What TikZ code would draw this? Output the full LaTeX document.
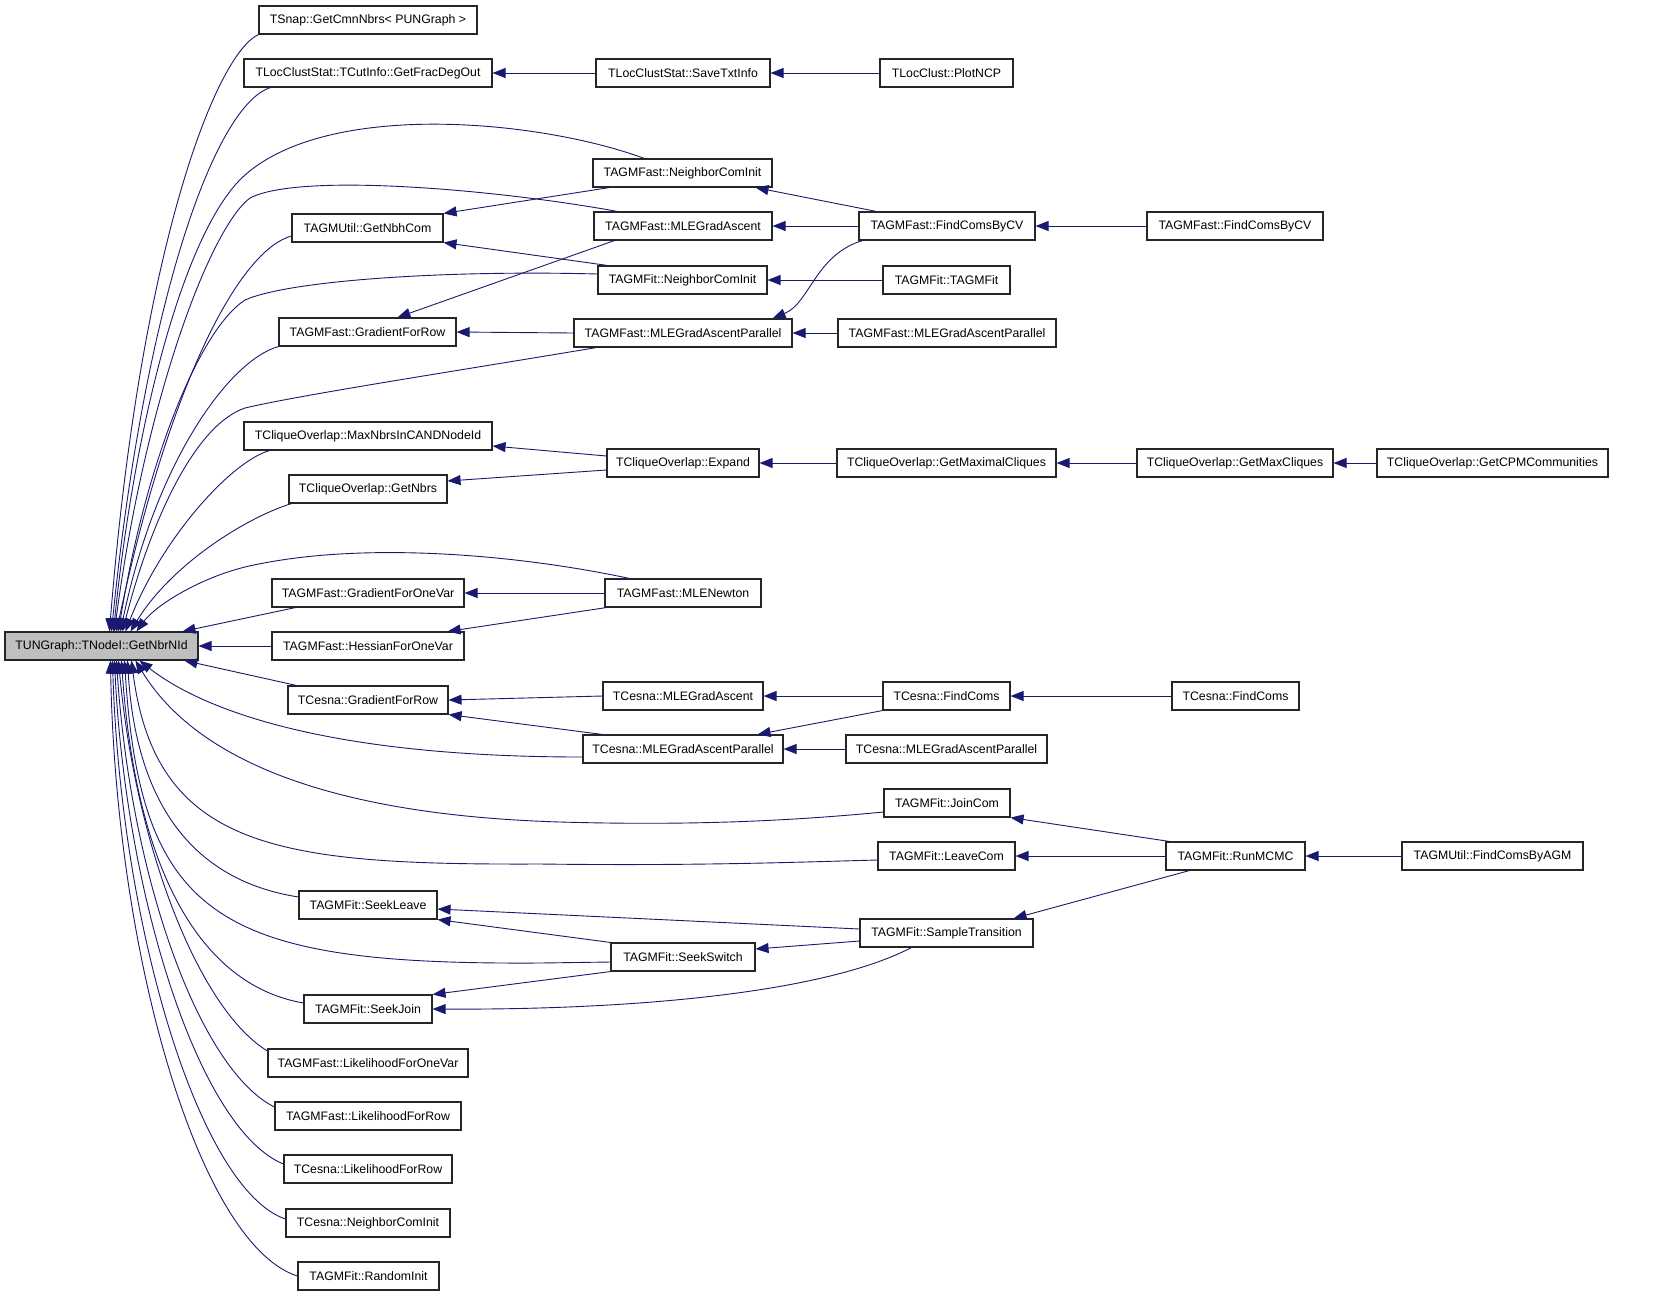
\documentclass[tikz,border=0pt]{standalone}
\usepackage{fontspec}
\setmainfont{Liberation Sans}
\usetikzlibrary{arrows.meta}
\definecolor{edgec}{HTML}{191970}
\definecolor{mainfill}{HTML}{BFBFBF}
\begin{document}
\begin{tikzpicture}[x=1pt,y=-1pt,
  box/.style={draw=black!85, line width=1.1pt, fill=white, rectangle, minimum height=28pt, inner sep=0pt, font=\fontsize{12.3}{14}\selectfont},
  e/.style={draw=edgec, line width=0.9pt, {Triangle[length=13pt,width=10pt]}-}]
\fill[white] (0,0) rectangle (1653,1296);
\useasboundingbox (0,0) rectangle (1653,1296);
% nodes
\node[box, fill=mainfill, minimum width=193] (main) at (101.5,646) {TUNGraph::TNodeI::GetNbrNId};
\node[box, minimum width=218] (snap) at (368,20) {TSnap::GetCmnNbrs< PUNGraph >};
\node[box, minimum width=248] (frac) at (368,73) {TLocClustStat::TCutInfo::GetFracDegOut};
\node[box, minimum width=174] (save) at (683,73) {TLocClustStat::SaveTxtInfo};
\node[box, minimum width=133] (plot) at (946.5,73) {TLocClust::PlotNCP};
\node[box, minimum width=179] (fnci) at (682.5,173) {TAGMFast::NeighborComInit};
\node[box, minimum width=151] (nbh) at (367.5,228) {TAGMUtil::GetNbhCom};
\node[box, minimum width=178] (fmle) at (683,226) {TAGMFast::MLEGradAscent};
\node[box, minimum width=176] (fcv) at (947,226) {TAGMFast::FindComsByCV};
\node[box, minimum width=176] (fcv2) at (1235,226) {TAGMFast::FindComsByCV};
\node[box, minimum width=169] (anci) at (682.5,280) {TAGMFit::NeighborComInit};
\node[box, minimum width=127] (tagmfit) at (946.5,280) {TAGMFit::TAGMFit};
\node[box, minimum width=177] (fgr) at (367.5,332) {TAGMFast::GradientForRow};
\node[box, minimum width=218] (fmlep) at (683,333) {TAGMFast::MLEGradAscentParallel};
\node[box, minimum width=218] (fmlep2) at (947,333) {TAGMFast::MLEGradAscentParallel};
\node[box, minimum width=248] (maxn) at (368,436) {TCliqueOverlap::MaxNbrsInCANDNodeId};
\node[box, minimum width=158] (gnbrs) at (368,489) {TCliqueOverlap::GetNbrs};
\node[box, minimum width=152] (expand) at (683,463) {TCliqueOverlap::Expand};
\node[box, minimum width=219] (gmaxl) at (946.5,463) {TCliqueOverlap::GetMaximalCliques};
\node[box, minimum width=196] (gmaxc) at (1235,463) {TCliqueOverlap::GetMaxCliques};
\node[box, minimum width=231] (cpm) at (1492.5,463) {TCliqueOverlap::GetCPMCommunities};
\node[box, minimum width=192] (gofv) at (368,593) {TAGMFast::GradientForOneVar};
\node[box, minimum width=156] (newton) at (683,593) {TAGMFast::MLENewton};
\node[box, minimum width=192] (hofv) at (368,646) {TAGMFast::HessianForOneVar};
\node[box, minimum width=160] (cgr) at (368,700) {TCesna::GradientForRow};
\node[box, minimum width=160] (cmle) at (683,696) {TCesna::MLEGradAscent};
\node[box, minimum width=127] (cfc) at (946.5,696) {TCesna::FindComs};
\node[box, minimum width=127] (cfc2) at (1235.5,696) {TCesna::FindComs};
\node[box, minimum width=200] (cmlep) at (683,749) {TCesna::MLEGradAscentParallel};
\node[box, minimum width=201] (cmlep2) at (946.5,749) {TCesna::MLEGradAscentParallel};
\node[box, minimum width=126] (join) at (947,803) {TAGMFit::JoinCom};
\node[box, minimum width=137] (leave) at (946.5,856) {TAGMFit::LeaveCom};
\node[box, minimum width=139] (runm) at (1235.5,856) {TAGMFit::RunMCMC};
\node[box, minimum width=181] (agm) at (1492.5,856) {TAGMUtil::FindComsByAGM};
\node[box, minimum width=138] (seekl) at (368,905) {TAGMFit::SeekLeave};
\node[box, minimum width=173] (sample) at (946.5,933) {TAGMFit::SampleTransition};
\node[box, minimum width=144] (seeks) at (683,957) {TAGMFit::SeekSwitch};
\node[box, minimum width=128] (seekj) at (368,1009) {TAGMFit::SeekJoin};
\node[box, minimum width=200] (lofv) at (368,1063) {TAGMFast::LikelihoodForOneVar};
\node[box, minimum width=186] (lfr) at (368,1116) {TAGMFast::LikelihoodForRow};
\node[box, minimum width=168] (clfr) at (368,1169) {TCesna::LikelihoodForRow};
\node[box, minimum width=164] (cnci) at (368,1223) {TCesna::NeighborComInit};
\node[box, minimum width=141] (rinit) at (368.5,1276) {TAGMFit::RandomInit};
% edges into main from above
\draw[e] ([xshift=105]main.north west) .. controls (140,250) and (215,55) .. (snap.south west);
\draw[e] ([xshift=107]main.north west) .. controls (145,300) and (215,105) .. ([xshift=27]frac.south west);
\draw[e] ([xshift=109]main.north west) .. controls (135,420) and (185,228) .. (245,175) .. controls (330,100) and (540,120) .. ([xshift=52]fnci.north west);
\draw[e] ([xshift=110]main.north west) .. controls (145,400) and (210,228) .. (250,198) .. controls (300,172) and (500,190) .. ([xshift=24]fmle.north west);
\draw[e] ([xshift=112]main.north west) .. controls (170,380) and (240,250) .. ([yshift=-8]nbh.west);
\draw[e] ([xshift=114]main.north west) .. controls (146,460) and (200,329) .. (245,300) .. controls (290,280) and (450,270) .. ([yshift=6]anci.west);
\draw[e] ([xshift=116]main.north west) .. controls (156,460) and (230,360) .. (fgr.south west);
\draw[e] ([xshift=118]main.north west) .. controls (151,520) and (195,425) .. (245,408) .. controls (300,395) and (450,372) .. ([xshift=23]fmlep.south west);
\draw[e] ([xshift=121]main.north west) .. controls (161,540) and (230,462) .. ([xshift=26]maxn.south west);
\draw[e] ([xshift=126]main.north west) .. controls (171,565) and (245,518) .. ([xshift=3]gnbrs.south west);
\draw[e] ([xshift=132]main.north west) .. controls (156,605) and (200,578) .. (245,567) .. controls (360,540) and (520,555) .. ([xshift=25]newton.north west);
\draw[e] ([xshift=178]main.north west) -- ([xshift=24]gofv.south west);
\draw[e] (main.east) -- (hofv.west);
% edges into main from below
\draw[e] ([xshift=180]main.south west) -- ([xshift=9]cgr.north west);
\draw[e] ([xshift=135]main.south west) .. controls (190,700) and (300,757) .. ([yshift=-8]cmlep.west);
\draw[e] ([xshift=131]main.south west) .. controls (196,760) and (330,815) .. (560,822) .. controls (700,826) and (800,820) .. ([yshift=-9]join.west);
\draw[e] ([xshift=127]main.south west) .. controls (156,850) and (280,865) .. (540,864) .. controls (700,866) and (800,862) .. ([yshift=-4]leave.west);
\draw[e] ([xshift=123]main.south west) .. controls (136,800) and (190,880) .. ([yshift=8]seekl.west);
\draw[e] ([xshift=120]main.south west) .. controls (141,920) and (220,965) .. (540,963) -- ([yshift=-5]seeks.west);
\draw[e] ([xshift=117]main.south west) .. controls (136,870) and (200,985) .. ([yshift=6]seekj.west);
\draw[e] ([xshift=114]main.south west) .. controls (136,850) and (200,1010) .. ([yshift=12]lofv.west);
\draw[e] ([xshift=112]main.south west) .. controls (131,880) and (200,1070) .. ([yshift=9]lfr.west);
\draw[e] ([xshift=110]main.south west) .. controls (126,900) and (200,1130) .. ([yshift=5]clfr.west);
\draw[e] ([xshift=108]main.south west) .. controls (121,930) and (200,1190) .. ([yshift=4]cnci.west);
\draw[e] ([xshift=106]main.south west) .. controls (116,960) and (200,1245) .. (rinit.west);
% other edges
\draw[e] (frac.east) -- (save.west);
\draw[e] (save.east) -- (plot.west);
\draw[e] (nbh.north east) -- ([xshift=17]fnci.south west);
\draw[e] (nbh.south east) -- ([xshift=10]anci.north west);
\draw[e] ([xshift=119]fgr.north west) -- ([xshift=21]fmle.south west);
\draw[e] (fgr.east) -- (fmlep.west);
\draw[e] ([xshift=-17]fnci.south east) -- ([xshift=18]fcv.north west);
\draw[e] (fmle.east) -- (fcv.west);
\draw[e] ([xshift=-20]fmlep.north east) .. controls (810,303) and (815,255) .. ([xshift=4]fcv.south west);
\draw[e] (fcv.east) -- (fcv2.west);
\draw[e] (anci.east) -- (tagmfit.west);
\draw[e] (fmlep.east) -- (fmlep2.west);
\draw[e] ([yshift=-10]maxn.east) -- ([yshift=7]expand.west);
\draw[e] ([yshift=8]gnbrs.east) -- ([yshift=-7]expand.west);
\draw[e] (expand.east) -- (gmaxl.west);
\draw[e] (gmaxl.east) -- (gmaxc.west);
\draw[e] (gmaxc.east) -- (cpm.west);
\draw[e] (gofv.east) -- (newton.west);
\draw[e] ([xshift=-17]hofv.north east) -- ([xshift=2]newton.south west);
\draw[e] (cgr.east) -- (cmle.west);
\draw[e] (cgr.south east) -- ([xshift=20]cmlep.north west);
\draw[e] (cmle.east) -- (cfc.west);
\draw[e] ([xshift=-26]cmlep.north east) -- (cfc.south west);
\draw[e] (cfc.east) -- (cfc2.west);
\draw[e] (cmlep.east) -- (cmlep2.west);
\draw[e] (join.south east) -- ([xshift=4]runm.north west);
\draw[e] (leave.east) -- (runm.west);
\draw[e] ([xshift=-20]sample.north east) -- ([xshift=24]runm.south west);
\draw[e] (runm.east) -- (agm.west);
\draw[e] ([yshift=-4]seekl.east) -- ([yshift=4]sample.west);
\draw[e] (seekl.south east) -- (seeks.north west);
\draw[e] ([yshift=8]seeks.east) -- ([yshift=-8]sample.west);
\draw[e] (seekj.north east) -- (seeks.south west);
\draw[e] (seekj.east) .. controls (620,1010) and (820,995) .. ([xshift=52]sample.south west);
\end{tikzpicture}
\end{document}
